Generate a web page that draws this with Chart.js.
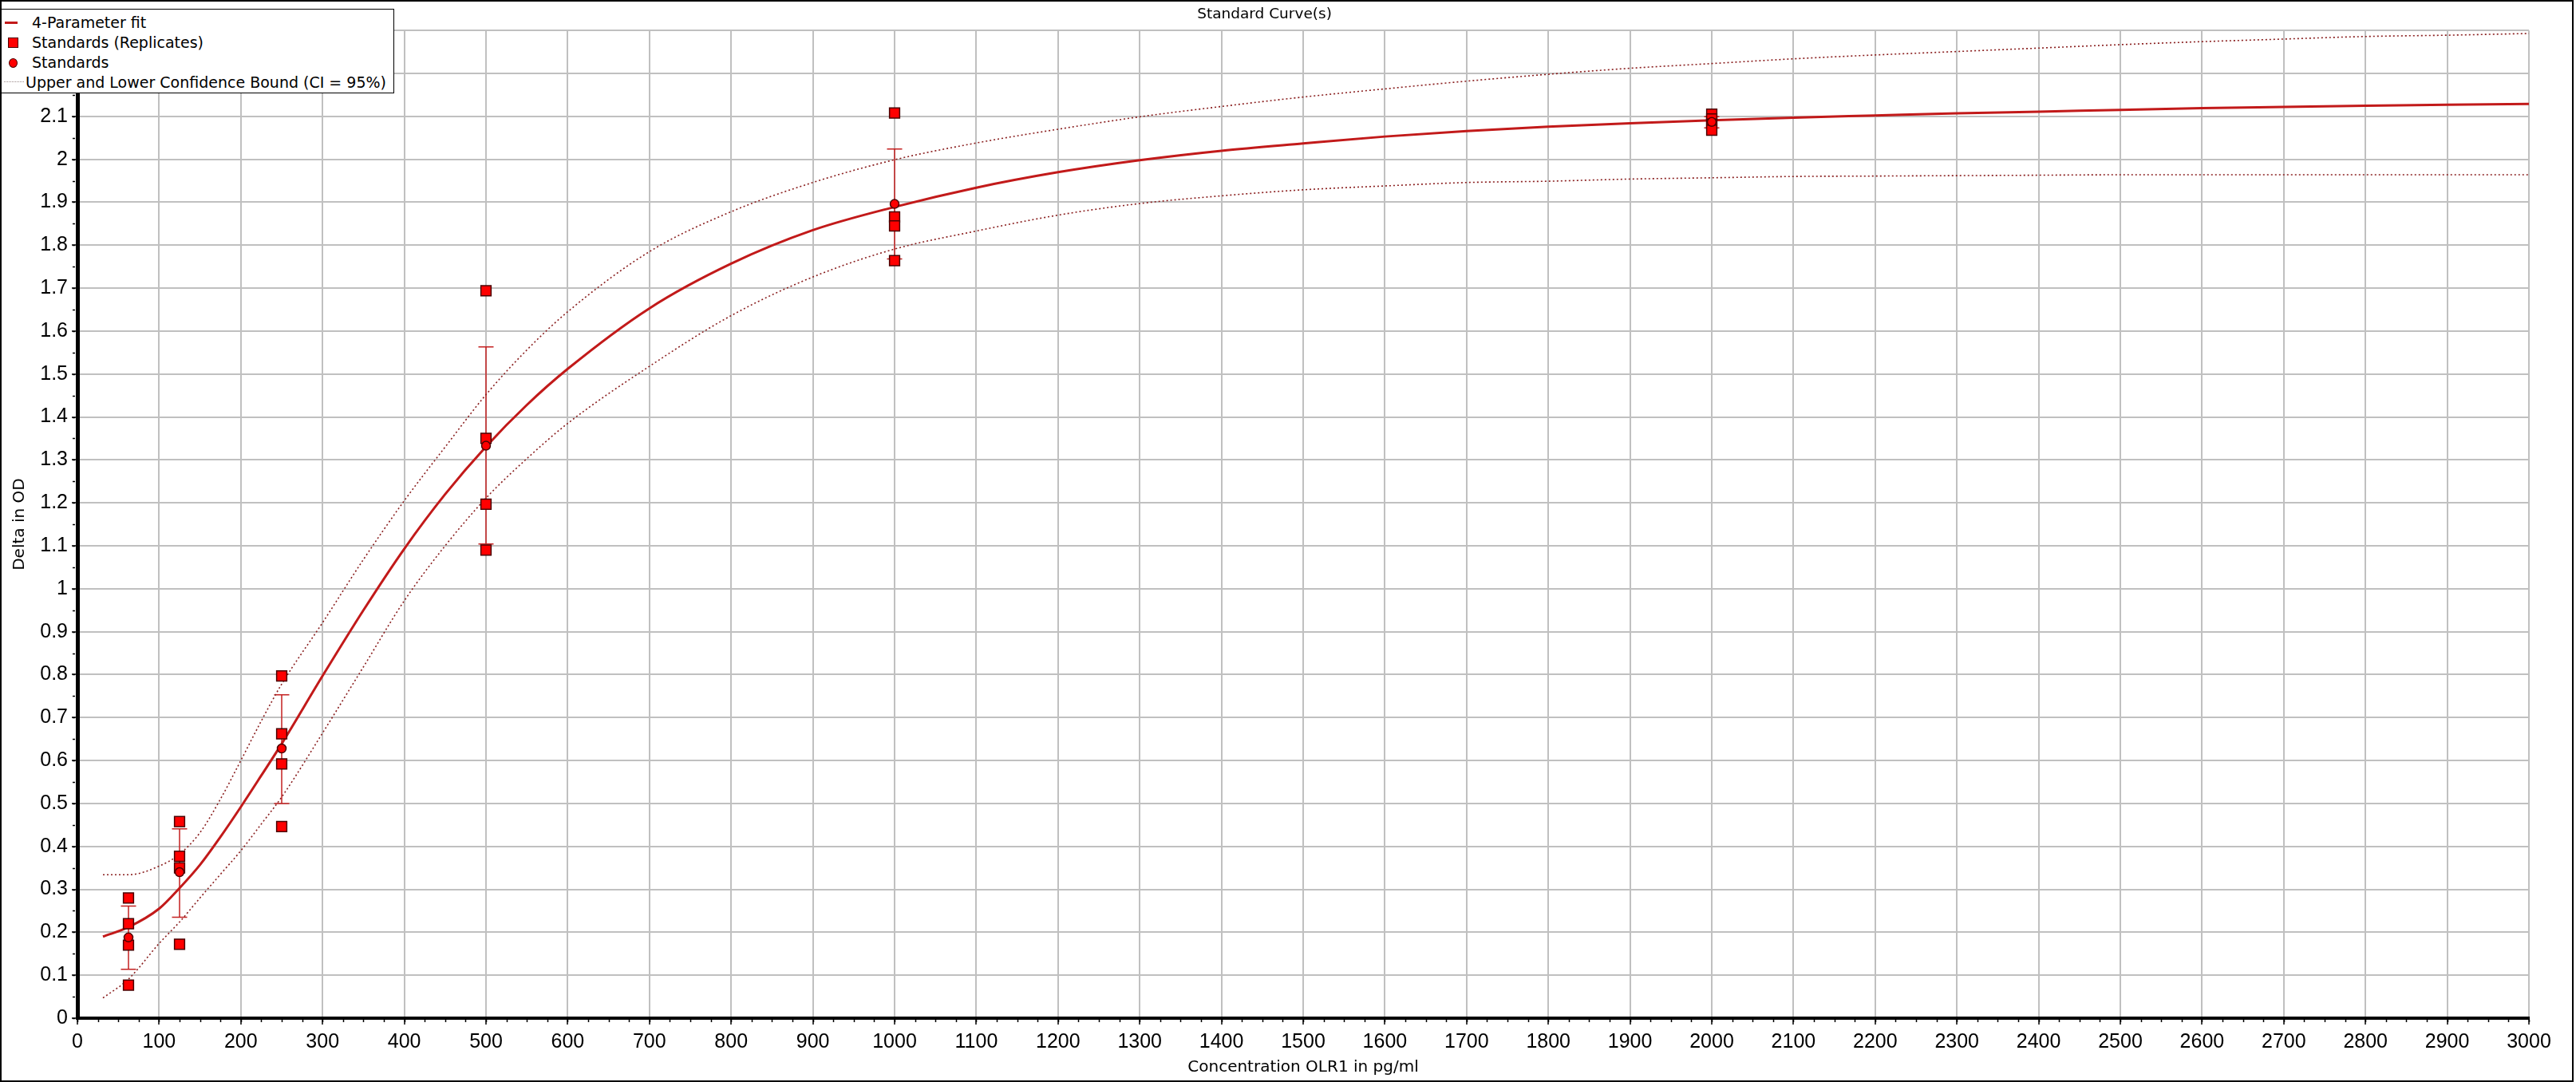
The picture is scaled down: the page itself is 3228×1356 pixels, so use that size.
<!DOCTYPE html>
<html>
<head>
<meta charset="utf-8">
<script src="https://cdn.jsdelivr.net/npm/chart.js@4.4.1/dist/chart.umd.min.js"></script>
<style>
  html, body { margin: 0; padding: 0; background: #fff; }
  #wrap { position: relative; width: 3228px; height: 1356px; overflow: hidden; }
  #c { position: absolute; left: 0; top: 0; width: 3228px; height: 1356px; }
  #frame { position: absolute; left: 0; top: 0; width: 3225px; height: 1356px; box-sizing: border-box; border: 2px solid #000; pointer-events: none; }
  #legend { position: absolute; left: 0; top: 11px; width: 494px; height: 106px; box-sizing: border-box; border: 1.5px solid #000; background: #fff;
            font-family: "DejaVu Sans", sans-serif; font-size: 19px; color: #000; }
  .row { position: absolute; left: 0; height: 24px; line-height: 24px; white-space: nowrap; }
  .txt { position: absolute; top: 0; }
  .sym { position: absolute; }
</style>
</head>
<body>
<div id="wrap">
  <canvas id="c" width="3228" height="1356"></canvas>
  <div id="legend"></div>
  <div id="frame"></div>
</div>
<script>
// ---------- data ----------
const standardsConc = [62.5, 125, 250, 500, 1000, 2000];
const meanOD   = [0.188, 0.340, 0.628, 1.333, 1.896, 2.087];
const errLow   = [0.114, 0.235, 0.500, 1.104, 1.768, 2.073];
const errHigh  = [0.261, 0.441, 0.753, 1.563, 2.024, 2.099];

const replicateConc = [62.5, 62.5, 62.5, 62.5,
                       125, 125, 125, 125,
                       250, 250, 250, 250,
                       500, 500, 500, 500,
                       1000, 1000, 1000, 1000,
                       2000, 2000, 2000, 2000];
const replicateOD   = [0.280, 0.220, 0.170, 0.077,
                       0.458, 0.377, 0.350, 0.172,
                       0.797, 0.662, 0.592, 0.446,
                       1.694, 1.350, 1.197, 1.090,
                       2.108, 1.866, 1.845, 1.764,
                       2.105, 2.094, 2.082, 2.068];

const curveConc = [31.25, 62.5, 100, 125, 150, 175, 200, 225, 250, 300, 350, 400, 450, 500, 550, 600,
                   700, 800, 900, 1000, 1100, 1200, 1300, 1400, 1500, 1600, 1700, 1800, 1900, 2000,
                   2100, 2200, 2300, 2400, 2500, 2600, 2700, 2800, 2900, 3000];
const fitOD     = [0.190, 0.212, 0.255, 0.303, 0.357, 0.422, 0.492, 0.565, 0.639, 0.797, 0.950, 1.093, 1.220, 1.331, 1.428, 1.512,
                   1.653, 1.757, 1.835, 1.889, 1.934, 1.970, 1.998, 2.020, 2.037, 2.053, 2.066, 2.076, 2.084, 2.091,
                   2.097, 2.102, 2.107, 2.111, 2.115, 2.119, 2.122, 2.125, 2.127, 2.129];
const upperOD   = [0.334, 0.334, 0.354, 0.382, 0.432, 0.510, 0.600, 0.692, 0.778, 0.921, 1.068, 1.205, 1.330, 1.452, 1.556, 1.645,
                   1.785, 1.878, 1.946, 1.999, 2.038, 2.070, 2.099, 2.123, 2.145, 2.164, 2.182, 2.198, 2.212, 2.223,
                   2.234, 2.243, 2.251, 2.259, 2.267, 2.274, 2.280, 2.286, 2.289, 2.293];
const lowerOD   = [0.047, 0.091, 0.174, 0.224, 0.280, 0.335, 0.390, 0.452, 0.515, 0.664, 0.818, 0.972, 1.100, 1.211, 1.303, 1.385,
                   1.518, 1.636, 1.726, 1.791, 1.833, 1.870, 1.897, 1.915, 1.929, 1.938, 1.946, 1.949, 1.954, 1.957,
                   1.960, 1.961, 1.962, 1.963, 1.964, 1.964, 1.964, 1.964, 1.964, 1.964];

const xTickLabels = ['0','100','200','300','400','500','600','700','800','900','1000','1100','1200','1300','1400','1500',
                     '1600','1700','1800','1900','2000','2100','2200','2300','2400','2500','2600','2700','2800','2900','3000'];
const yTickLabels = ['0','0.1','0.2','0.3','0.4','0.5','0.6','0.7','0.8','0.9','1','1.1','1.2','1.3','1.4','1.5',
                     '1.6','1.7','1.8','1.9','2','2.1','2.2','2.3'];

const legendLabels = ['4-Parameter fit', 'Standards (Replicates)', 'Standards', 'Upper and Lower Confidence Bound (CI = 95%)'];
const titleText = 'Standard Curve(s)';
const xTitle = 'Concentration OLR1 in pg/ml';
const yTitle = 'Delta in OD';

// ---------- styles ----------
const FIT_COLOR = '#c21a1a';
const CI_COLOR = '#8a1f1f';
const MARK_FILL = '#ff0000';
const MARK_EDGE = '#4a0000';

const toXY = (xs, ys) => xs.map((v, i) => ({ x: v, y: ys[i] }));

const errorBars = {
  id: 'errorBars',
  beforeDatasetsDraw(chart) {
    const { ctx, scales: { x, y } } = chart;
    ctx.save();
    ctx.strokeStyle = '#c42020';
    ctx.lineWidth = 1.5;
    standardsConc.forEach((c, i) => {
      const px = x.getPixelForValue(c);
      const pt = y.getPixelForValue(errHigh[i]);
      const pb = y.getPixelForValue(errLow[i]);
      ctx.beginPath();
      ctx.moveTo(px, pt); ctx.lineTo(px, pb);
      ctx.moveTo(px - 9.5, pt); ctx.lineTo(px + 9.5, pt);
      ctx.moveTo(px - 9.5, pb); ctx.lineTo(px + 9.5, pb);
      ctx.stroke();
    });
    ctx.restore();
  }
};

const minorTicks = {
  id: 'minorTicks',
  afterDraw(chart) {
    const { ctx, scales: { x, y }, chartArea } = chart;
    ctx.save();
    ctx.strokeStyle = '#000';
    ctx.lineWidth = 1.5;
    ctx.beginPath();
    for (let v = x.min; v <= x.max + 1e-9; v += 25) {
      const px = Math.round(x.getPixelForValue(v)) + 0.5;
      ctx.moveTo(px, chartArea.bottom + 2); ctx.lineTo(px, chartArea.bottom + 5);
    }
    for (let k = 0; k <= 46; k++) {
      const py = Math.round(y.getPixelForValue(k * 0.05)) + 0.5;
      ctx.moveTo(chartArea.left - 3, py); ctx.lineTo(chartArea.left - 6, py);
    }
    ctx.stroke();
    ctx.restore();
  }
};

const tickFont = { family: '"Liberation Sans", "DejaVu Sans", sans-serif', size: 25, lineHeight: 1.2 };
const titleFont = { family: '"DejaVu Sans", sans-serif', size: 20, lineHeight: 1.2 };

new Chart(document.getElementById('c'), {
  type: 'scatter',
  data: {
    datasets: [
      { type: 'line', label: legendLabels[0], data: toXY(curveConc, fitOD), borderColor: FIT_COLOR, borderWidth: 3,
        pointRadius: 0, cubicInterpolationMode: 'monotone', fill: false, order: 3 },
      { type: 'line', label: legendLabels[3], data: toXY(curveConc, upperOD), borderColor: CI_COLOR, borderWidth: 1.6,
        borderDash: [2, 3], pointRadius: 0, cubicInterpolationMode: 'monotone', fill: false, order: 4 },
      { type: 'line', label: legendLabels[3], data: toXY(curveConc, lowerOD), borderColor: CI_COLOR, borderWidth: 1.6,
        borderDash: [2, 3], pointRadius: 0, cubicInterpolationMode: 'monotone', fill: false, order: 5 },
      { type: 'scatter', label: legendLabels[1], data: toXY(replicateConc, replicateOD), pointStyle: 'rect', pointRadius: 9,
        backgroundColor: MARK_FILL, borderColor: MARK_EDGE, borderWidth: 1.5, order: 1 },
      { type: 'scatter', label: legendLabels[2], data: toXY(standardsConc, meanOD), pointStyle: 'circle', pointRadius: 5.5,
        backgroundColor: MARK_FILL, borderColor: MARK_EDGE, borderWidth: 1.5, order: 0 }
    ]
  },
  options: {
    responsive: false,
    animation: false,
    devicePixelRatio: 1,
    events: [],
    layout: { padding: { left: 0, right: 59, top: 0, bottom: 0 } },
    plugins: {
      legend: { display: false },
      tooltip: { enabled: false },
      title: { display: true, text: titleText, color: '#000',
               font: { family: '"DejaVu Sans", sans-serif', size: 18.5, weight: 'normal', lineHeight: 1.2 },
               padding: { top: 7, bottom: 9 } }
    },
    scales: {
      x: {
        type: 'linear', min: 0, max: 3000,
        afterFit(s) { s.height = 80; },
        ticks: { stepSize: 100, color: '#000', font: tickFont, padding: 7, maxRotation: 0, autoSkip: false,
                 callback: (v, i) => xTickLabels[i] },
        grid: { color: '#c0c0c0', lineWidth: 2, drawTicks: true, tickLength: 8, tickColor: '#000', tickWidth: 1.5 },
        border: { display: true, color: '#000', width: 4 },
        title: { display: true, text: xTitle, color: '#000', font: titleFont, padding: { top: 0, bottom: 6 } }
      },
      y: {
        type: 'linear', min: 0, max: 2.3,
        afterFit(s) { s.width = 97; },
        ticks: { stepSize: 0.1, color: '#000', font: tickFont, padding: 5, autoSkip: false,
                 callback: (v, i) => yTickLabels[i] },
        grid: { color: '#c0c0c0', lineWidth: 2, drawTicks: true, tickLength: 7, tickColor: '#000', tickWidth: 1.5 },
        border: { display: true, color: '#000', width: 5 },
        title: { display: true, text: yTitle, color: '#000', font: titleFont, padding: { top: 13, bottom: 0 } }
      }
    }
  },
  plugins: [errorBars, minorTicks]
});

// ---------- legend (HTML overlay, top-left like the reference) ----------
const legendRows = [
  { top: 4,  sym: '<div class="sym" style="left:5px;top:10.5px;width:16px;height:3px;background:' + FIT_COLOR + '"></div>', textLeft: 39 },
  { top: 29, sym: '<div class="sym" style="left:9px;top:6px;width:11px;height:11px;background:' + MARK_FILL + ';border:1px solid ' + MARK_EDGE + '"></div>', textLeft: 39 },
  { top: 54, sym: '<div class="sym" style="left:10px;top:7px;width:9px;height:10px;border-radius:50%;background:' + MARK_FILL + ';border:1px solid ' + MARK_EDGE + '"></div>', textLeft: 39 },
  { top: 79, sym: '<div class="sym" style="left:4px;top:11px;width:25px;height:0;border-top:1.5px dotted #9a8a8a"></div>', textLeft: 31 }
];
document.getElementById('legend').innerHTML = legendRows.map((r, i) =>
  '<div class="row" style="top:' + r.top + 'px;width:490px">' + r.sym +
  '<span class="txt" style="left:' + r.textLeft + 'px">' + legendLabels[i] + '</span></div>').join('');
</script>
</body>
</html>
